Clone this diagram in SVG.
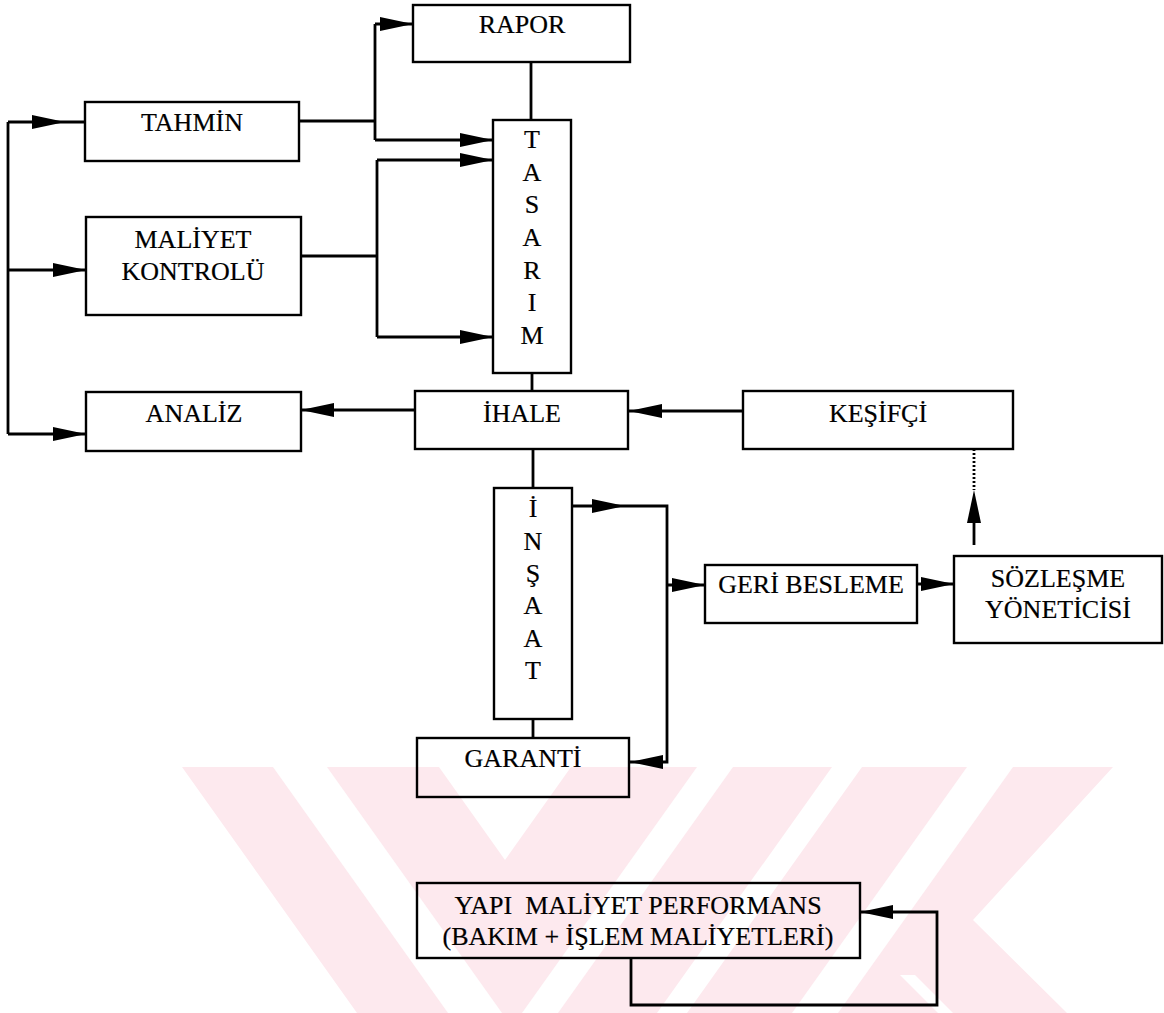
<svg xmlns="http://www.w3.org/2000/svg" xmlns:xlink="http://www.w3.org/1999/xlink" width="1164" height="1013" viewBox="0 0 1164 1013">
  <style>
    .box { fill: none; stroke: #000; stroke-width: 2.4; }
    .wire { fill: none; stroke: #000; stroke-width: 2.8; }
    .dots { fill: none; stroke: #000; stroke-width: 2.8; stroke-dasharray: 2 2; }
    .lbl { font-family: "Liberation Serif", "Times New Roman", serif; font-size: 26px; text-anchor: middle; fill: #000; stroke: #000; stroke-width: 0.2; }
    .vl { font-family: "Liberation Serif", "Times New Roman", serif; font-size: 26px; text-anchor: middle; fill: #000; stroke: #000; stroke-width: 0.2; }
    .wm { fill: #fde9ee; }
    .gap { fill: #fff; }
  </style>
  <defs>
    <!-- filled arrowhead, tip at origin, pointing +x -->
    <path id="ah" d="M0,0 L-33,-7 L-33,7 Z" fill="#000"/>
  </defs>

  <rect width="1164" height="1013" fill="#fff"/>

  <!-- pale background emblem -->
  <g id="emblem">
    <path class="wm" d="M182,767 L1113,767 L973,920 L1067,1013 L357,1013 Z"/>
    <path class="gap" d="M273,767 L327,767 L502,1013 L448,1013 Z"/>
    <path class="gap" d="M439,767 L571,767 L505,860 Z"/>
    <path class="gap" d="M697,767 L733,767 L558,1013 L522,1013 Z"/>
    <path class="gap" d="M832,767 L862,767 L687,1013 L657,1013 Z"/>
    <path class="gap" d="M967,767 L1013,767 L838,1013 L792,1013 Z"/>
    <path class="gap" d="M900,975 L915,975 L953,1013 L938,1013 Z"/>
  </g>

  <!-- connectors -->
  <g id="connectors">
    <path class="wire" d="M8,122 V434 M8,122 H85 M8,270 H86 M8,434 H86"/>
    <path class="wire" d="M299,121 H375 M375,24 V140 M375,24 H413 M375,140 H493"/>
    <path class="wire" d="M377,160 V337 M377,160 H493 M377,337 H493 M301,256 H377"/>
    <path class="wire" d="M531,62 V120 M532,373 V391 M533,449 V488 M533,719 V738"/>
    <path class="wire" d="M415,410 H301 M743,411 H629"/>
    <path class="dots" d="M974,449 V490"/>
    <path class="wire" d="M974,520 V545"/>
    <path class="wire" d="M572,506 H667 V762 H630 M667,585 H705"/>
    <path class="wire" d="M917,584 H954"/>
    <path class="wire" d="M631,958 V1005 H937 V912 H860"/>

    <use xlink:href="#ah" transform="translate(65,122)"/>
    <use xlink:href="#ah" transform="translate(86,270)"/>
    <use xlink:href="#ah" transform="translate(86,434)"/>
    <use xlink:href="#ah" transform="translate(413,24)"/>
    <use xlink:href="#ah" transform="translate(493,140)"/>
    <use xlink:href="#ah" transform="translate(493,160)"/>
    <use xlink:href="#ah" transform="translate(493,337)"/>
    <use xlink:href="#ah" transform="translate(301,410) rotate(180)"/>
    <use xlink:href="#ah" transform="translate(629,411) rotate(180)"/>
    <use xlink:href="#ah" transform="translate(974,490) rotate(-90)"/>
    <use xlink:href="#ah" transform="translate(625,506)"/>
    <use xlink:href="#ah" transform="translate(705,585)"/>
    <use xlink:href="#ah" transform="translate(630,762) rotate(180)"/>
    <use xlink:href="#ah" transform="translate(954,584)"/>
    <use xlink:href="#ah" transform="translate(860,912) rotate(180)"/>
  </g>

  <g id="rapor">
    <rect class="box" x="413" y="5" width="217" height="57"/>
    <text class="lbl" x="522" y="33">RAPOR</text>
  </g>
  <g id="tahmin">
    <rect class="box" x="85" y="102" width="214" height="59"/>
    <text class="lbl" x="192" y="131">TAHMİN</text>
  </g>
  <g id="maliyet-kontrolu">
    <rect class="box" x="86" y="217" width="215" height="98"/>
    <text class="lbl" x="193" y="248">MALİYET</text>
    <text class="lbl" x="193" y="280">KONTROLÜ</text>
  </g>
  <g id="analiz">
    <rect class="box" x="86" y="392" width="215" height="59"/>
    <text class="lbl" x="194" y="422">ANALİZ</text>
  </g>
  <g id="tasarim">
    <rect class="box" x="493" y="120" width="78" height="253"/>
    <text class="vl" x="532" y="148">T</text>
    <text class="vl" x="532" y="181">A</text>
    <text class="vl" x="532" y="213">S</text>
    <text class="vl" x="532" y="246">A</text>
    <text class="vl" x="532" y="279">R</text>
    <text class="vl" x="532" y="311">I</text>
    <text class="vl" x="532" y="344">M</text>
  </g>
  <g id="ihale">
    <rect class="box" x="415" y="391" width="213" height="58"/>
    <text class="lbl" x="522" y="422">İHALE</text>
  </g>
  <g id="kesifci">
    <rect class="box" x="743" y="391" width="270" height="58"/>
    <text class="lbl" x="878" y="422">KEŞİFÇİ</text>
  </g>
  <g id="insaat">
    <rect class="box" x="494" y="488" width="78" height="231"/>
    <text class="vl" x="533" y="517">İ</text>
    <text class="vl" x="533" y="550">N</text>
    <text class="vl" x="533" y="582">Ş</text>
    <text class="vl" x="533" y="614">A</text>
    <text class="vl" x="533" y="647">A</text>
    <text class="vl" x="533" y="679">T</text>
  </g>
  <g id="geri-besleme">
    <rect class="box" x="705" y="565" width="212" height="58"/>
    <text class="lbl" x="811" y="593">GERİ BESLEME</text>
  </g>
  <g id="sozlesme-yoneticisi">
    <rect class="box" x="954" y="556" width="208" height="87"/>
    <text class="lbl" x="1058" y="587">SÖZLEŞME</text>
    <text class="lbl" x="1058" y="618">YÖNETİCİSİ</text>
  </g>
  <g id="garanti">
    <rect class="box" x="417" y="738" width="212" height="59"/>
    <text class="lbl" x="523" y="767">GARANTİ</text>
  </g>
  <g id="yapi-maliyet">
    <rect class="box" x="417" y="883" width="443" height="75"/>
    <text class="lbl" x="638" y="914" xml:space="preserve">YAPI  MALİYET PERFORMANS</text>
    <text class="lbl" x="638" y="945">(BAKIM + İŞLEM MALİYETLERİ)</text>
  </g>
</svg>
